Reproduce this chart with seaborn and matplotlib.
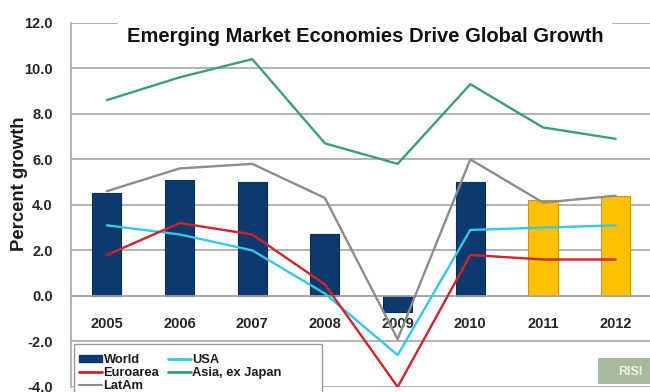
import numpy as np
import pandas as pd
import matplotlib
matplotlib.use("Agg")
import matplotlib.pyplot as plt
from matplotlib.patches import Patch, Rectangle
from matplotlib.lines import Line2D
import matplotlib.colors as mcolors
import seaborn as sns

# ---- data -------------------------------------------------------------
years = ["2005", "2006", "2007", "2008", "2009", "2010", "2011", "2012"]
bar_kind = ["Actual", "Actual", "Actual", "Actual", "Actual", "Actual",
            "Forecast", "Forecast"]
world = [4.5, 5.1, 5.0, 2.7, -0.7, 5.0, 4.2, 4.4]
usa = [3.1, 2.7, 2.0, 0.1, -2.6, 2.9, 3.0, 3.1]
euroarea = [1.8, 3.2, 2.7, 0.5, -4.0, 1.8, 1.6, 1.6]
asia_ex_japan = [8.6, 9.6, 10.4, 6.7, 5.8, 9.3, 7.4, 6.9]
latam = [4.6, 5.6, 5.8, 4.3, -1.9, 6.0, 4.1, 4.4]

series_names = ["USA", "Euroarea", "Asia, ex Japan", "LatAm"]
series_values = [usa, euroarea, asia_ex_japan, latam]

title = "Emerging Market Economies Drive Global Growth"
y_ticks = [-4, -2, 0, 2, 4, 6, 8, 10, 12]

# ---- styling ----------------------------------------------------------
NAVY = "#0c3a6e"
GOLD = "#ffc000"
line_colors = {"USA": "#33c8ee", "Euroarea": "#d2232a",
               "Asia, ex Japan": "#3a9f7a", "LatAm": "#8c8c8c"}
GRID = "#a6a6a6"

sns.set_style("white")
plt.rcParams["font.family"] = ["Liberation Sans", "DejaVu Sans"]

W, H = 650, 392
fig = plt.figure(figsize=(W / 100, H / 100), dpi=100)
ax = fig.add_axes([70.6 / W, 5 / H, 581.4 / W, 364.3 / H])

bar_df = pd.DataFrame({"year": years, "growth": world, "kind": bar_kind})
sns.barplot(data=bar_df, x="year", y="growth", hue="kind",
            palette={"Actual": NAVY, "Forecast": GOLD}, dodge=False,
            width=0.4, saturation=1, legend=False, ax=ax, zorder=2)
for p in ax.patches:
    fc = np.array(mcolors.to_rgb(p.get_facecolor()))
    p.set_edgecolor(fc * 0.8)
    p.set_linewidth(0.8)

pos = np.arange(len(years))
line_df = pd.DataFrame({
    "series": np.repeat(series_names, len(years)),
    "pos": np.tile(pos, len(series_names)),
    "growth": np.concatenate(series_values),
})
sns.lineplot(data=line_df, x="pos", y="growth", hue="series",
             hue_order=["LatAm", "Asia, ex Japan", "USA", "Euroarea"],
             palette=line_colors, linewidth=1.7, sort=False,
             legend=False, ax=ax, zorder=3)

# ---- axes -------------------------------------------------------------
ax.set_xlim(-0.5, len(years) - 0.5)
ax.set_ylim(-4, 12)
ax.set_axisbelow(True)
ax.yaxis.grid(True, color=GRID, linewidth=1.2)
ax.xaxis.grid(False)

for s in ("top", "right"):
    ax.spines[s].set_visible(False)
ax.spines["left"].set_color(GRID)
ax.spines["left"].set_linewidth(1.2)
ax.spines["bottom"].set_position(("data", 0))
ax.spines["bottom"].set_color(GRID)
ax.spines["bottom"].set_linewidth(1.2)

ax.set_yticks(y_ticks)
ax.set_yticklabels([f"{v:.1f}" for v in y_ticks], fontsize=10.5,
                   fontweight="bold")
ax.tick_params(axis="y", length=5, width=1, color=GRID, pad=8)

ax.set_xticks(pos)
ax.set_xticklabels(years, fontsize=10.5, fontweight="bold")
ax.set_xticks(np.arange(len(years) + 1) - 0.5, minor=True)
ax.tick_params(axis="x", which="major", length=0, pad=15.5)
ax.tick_params(axis="x", which="minor", length=5, width=1, color=GRID,
               direction="out")
ax.set_xlabel("")

ax.set_ylabel("Percent growth", fontsize=13.3, fontweight="bold",
              va="center", color="#1a1a1a")
ax.yaxis.set_label_coords((19 - 70.6) / 581.4, (387 - 184) / 364.3)

# ---- title ------------------------------------------------------------
fig.text(365 / W, 1 - 37 / H, title, ha="center", va="center",
         fontsize=14.5, fontweight="bold", color="#111111",
         bbox=dict(facecolor="white", edgecolor="none", pad=6), zorder=5)

# ---- legend -----------------------------------------------------------
fig.patches.append(Rectangle((74 / W, -0.05), (322 - 74) / W,
                             (392 - 344) / H + 0.05,
                             transform=fig.transFigure, facecolor="white",
                             edgecolor="#9a9a9a", linewidth=1, zorder=4))
handles = [
    Patch(facecolor=NAVY, edgecolor=NAVY, label="World"),
    Line2D([], [], color=line_colors["Euroarea"], lw=2, label="Euroarea"),
    Line2D([], [], color=line_colors["LatAm"], lw=1.5, label="LatAm"),
    Line2D([], [], color=line_colors["USA"], lw=2, label="USA"),
    Line2D([], [], color=line_colors["Asia, ex Japan"], lw=2,
           label="Asia, ex Japan"),
]
leg = fig.legend(handles=handles, loc="upper left", ncol=2, frameon=False,
                 bbox_to_anchor=(79 / W, 1 - 354 / H),
                 prop={"size": 9.3, "weight": "bold"}, borderpad=0,
                 borderaxespad=0, labelspacing=0.08, handlelength=1.8,
                 handleheight=0.4, handletextpad=0.1, columnspacing=0.65)
leg.set_zorder(6)
for t in leg.get_texts():
    t.set_color("#1a1a1a")

# ---- logo -------------------------------------------------------------
fig.patches.append(Rectangle((598 / W, 1 - 384 / H), 52 / W, 26 / H,
                             transform=fig.transFigure, facecolor="#a9b99c",
                             edgecolor="none", zorder=4))
fig.text(630 / W, 1 - 372 / H, "RISI", ha="center", va="center",
         fontsize=9, fontweight="bold", color="#eef2ea", zorder=6)

fig.savefig("out.png", dpi=100)
